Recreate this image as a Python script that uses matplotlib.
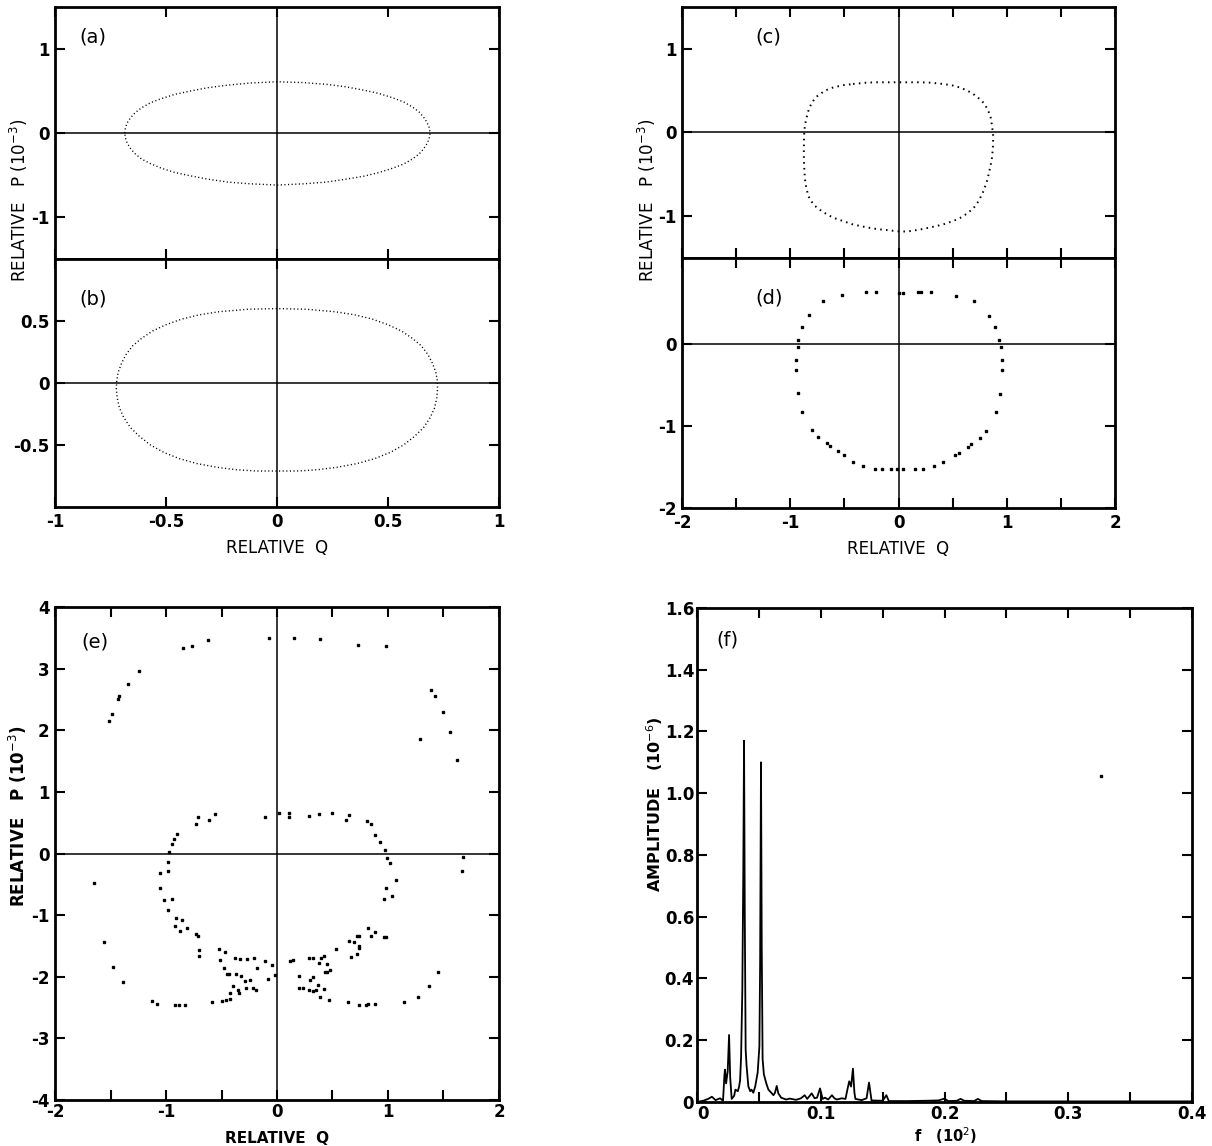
import matplotlib as mpl
mpl.use('Agg')
from matplotlib import pyplot as plt
from matplotlib.ticker import MultipleLocator, FixedLocator

plt.rcParams['font.family'] = ['DejaVu Sans']
plt.rcParams['axes.unicode_minus'] = False

# ---- data ----
# (a) phase-space curve, relative Q vs relative P (1e-3)
a_q = [-0.686, -0.683, -0.675, -0.66, -0.64, -0.61, -0.57, -0.52, -0.46, -0.39, -0.31, -0.22,
       -0.12, 0.0, 0.12, 0.22, 0.31, 0.39, 0.46, 0.52, 0.57, 0.61, 0.64, 0.66, 0.675, 0.685,
       0.69, 0.685, 0.675, 0.66, 0.64, 0.61, 0.57, 0.52, 0.46, 0.39, 0.31, 0.22, 0.12, 0.0,
       -0.12, -0.22, -0.31, -0.39, -0.46, -0.52, -0.57, -0.61, -0.64, -0.66, -0.675, -0.683,
       -0.686]
a_p = [0.0, 0.06, 0.12, 0.18, 0.24, 0.30, 0.36, 0.41, 0.46, 0.50, 0.54, 0.57,
       0.595, 0.61, 0.60, 0.58, 0.55, 0.51, 0.47, 0.42, 0.37, 0.31, 0.25, 0.19, 0.13, 0.07,
       0.0, -0.07, -0.13, -0.19, -0.25, -0.31, -0.37, -0.42, -0.47, -0.515, -0.55, -0.585,
       -0.605, -0.62, -0.605, -0.585, -0.55, -0.51, -0.47, -0.42, -0.365, -0.31, -0.245,
       -0.185, -0.12, -0.06, 0.0]

# (b)
b_q = [-0.724, -0.722, -0.715, -0.70, -0.68, -0.65, -0.61, -0.56, -0.50, -0.43, -0.35, -0.26,
       -0.13, 0.0, 0.13, 0.26, 0.35, 0.43, 0.50, 0.56, 0.61, 0.65, 0.68, 0.70, 0.715, 0.722,
       0.723, 0.72, 0.71, 0.69, 0.66, 0.62, 0.57, 0.51, 0.44, 0.36, 0.27, 0.18, 0.09, 0.0,
       -0.09, -0.18, -0.27, -0.36, -0.44, -0.51, -0.57, -0.62, -0.66, -0.69, -0.71, -0.72,
       -0.724]
b_p = [-0.05, 0.02, 0.09, 0.16, 0.23, 0.30, 0.36, 0.42, 0.47, 0.515, 0.55, 0.575,
       0.595, 0.60, 0.595, 0.575, 0.55, 0.515, 0.47, 0.42, 0.36, 0.30, 0.23, 0.16, 0.09, 0.02,
       -0.05, -0.12, -0.20, -0.28, -0.36, -0.43, -0.50, -0.56, -0.61, -0.65, -0.68, -0.70,
       -0.71, -0.71, -0.71, -0.70, -0.68, -0.65, -0.61, -0.56, -0.50, -0.43, -0.36, -0.28,
       -0.20, -0.12, -0.05]

# (c)
c_q = [-0.42, -0.30, -0.20, -0.10, 0.0, 0.10, 0.20, 0.30, 0.41, 0.49, 0.56, 0.62, 0.68, 0.74,
       0.79, 0.825, 0.85, 0.865, 0.875, 0.872, 0.865, 0.85, 0.82, 0.785, 0.74, 0.69, 0.62,
       0.56, 0.50, 0.41, 0.31, 0.20, 0.10, 0.03, -0.05, -0.12, -0.20, -0.31, -0.42, -0.51,
       -0.60, -0.66, -0.72, -0.77, -0.82, -0.85, -0.865, -0.872, -0.875, -0.873, -0.87,
       -0.855, -0.83, -0.80, -0.755, -0.68, -0.60, -0.51, -0.42]
c_p = [0.58, 0.595, 0.60, 0.60, 0.60, 0.60, 0.60, 0.595, 0.58, 0.565, 0.54, 0.51, 0.47, 0.41,
       0.35, 0.27, 0.19, 0.07, -0.05, -0.17, -0.29, -0.40, -0.57, -0.70, -0.82, -0.91, -0.98,
       -1.03, -1.06, -1.10, -1.13, -1.16, -1.18, -1.185, -1.175, -1.165, -1.155, -1.13, -1.10,
       -1.06, -1.02, -0.98, -0.93, -0.88, -0.80, -0.68, -0.55, -0.40, -0.25, -0.10, 0.03,
       0.15, 0.27, 0.36, 0.43, 0.50, 0.54, 0.565, 0.58]

# (d) individual iterates
d_q = [-0.52, -0.30, -0.21, 0.0, 0.04, 0.18, 0.21, 0.30, 0.53, 0.70, 0.84, 0.89, 0.93, 0.95,
       0.96, 0.96, 0.94, 0.90, 0.81, 0.75, 0.67, 0.64, 0.56, 0.52, 0.41, 0.33, 0.23, 0.15,
       0.04, -0.01, -0.07, -0.15, -0.22, -0.33, -0.42, -0.50, -0.56, -0.63, -0.66, -0.74,
       -0.80, -0.89, -0.93, -0.95, -0.95, -0.93, -0.93, -0.89, -0.83, -0.70]
d_p = [0.60, 0.63, 0.63, 0.62, 0.62, 0.63, 0.63, 0.63, 0.59, 0.52, 0.34, 0.21, 0.05, -0.03,
       -0.19, -0.32, -0.61, -0.83, -1.06, -1.15, -1.22, -1.26, -1.33, -1.35, -1.44, -1.49,
       -1.53, -1.53, -1.52, -1.52, -1.52, -1.53, -1.52, -1.49, -1.44, -1.35, -1.30, -1.24,
       -1.21, -1.13, -1.05, -0.83, -0.60, -0.32, -0.19, -0.03, 0.05, 0.21, 0.36, 0.52]

# (e) chaotic iterates
e_q = [-1.515, -1.485, -1.43, -1.42, -1.34, -1.24, -0.85, -0.77, -0.62, -0.07, 0.15, 0.39,
       0.73, 0.98, 1.39, 1.42, 1.50, 1.56, 1.29, 1.62,
       -0.97, -0.95, -0.93, -0.90, -0.73, -0.71, -0.61, -0.56, -0.11, 0.015, 0.11, 0.11,
       0.29, 0.38, 0.50, 0.62, 0.65, 0.81, 0.85, 0.88, 0.93, 0.97, 0.99, 1.02, 1.68, 1.67,
       -0.98, -1.05, -0.98,
       -1.65, -1.05, -1.02, -0.95, -0.98, -0.91, -0.86, -0.92, -0.87, -0.81, -0.73, -0.71,
       -0.70, -0.70, -1.56, -1.48, -1.39, -1.13, -1.08, -0.92, -0.88, -0.83, -0.59, -0.50,
       -0.46, -0.42, -0.52, -0.51, -0.47, -0.48, -0.45, -0.43, -0.38, -0.33, -0.27, -0.21,
       -0.37, -0.32, -0.40, -0.42, -0.35, -0.34, -0.29, -0.24, -0.28, -0.22, -0.19, -0.18,
       -0.11, -0.045, -0.085, -0.015,
       0.12, 0.145, 0.20, 0.20, 0.23, 0.29, 0.32, 0.30, 0.32, 0.29, 0.32, 0.35, 0.38, 0.40,
       0.42, 0.37, 0.42, 0.43, 0.45, 0.45, 0.39, 0.47, 0.48, 0.53, 0.64, 0.65, 0.69, 0.67,
       0.72, 0.74, 0.74, 0.72, 0.74, 0.74, 0.80, 0.82, 0.88, 0.82, 0.85, 0.88, 0.96, 0.98,
       0.96, 0.98, 1.04, 1.07, 1.14, 1.27, 1.37, 1.45]
e_p = [2.15, 2.27, 2.50, 2.55, 2.75, 2.97, 3.33, 3.37, 3.47, 3.50, 3.50, 3.48,
       3.39, 3.36, 2.65, 2.56, 2.29, 1.97, 1.86, 1.51,
       0.03, 0.16, 0.24, 0.32, 0.48, 0.60, 0.55, 0.64, 0.60, 0.66, 0.66, 0.60,
       0.61, 0.64, 0.66, 0.55, 0.63, 0.53, 0.48, 0.30, 0.19, 0.06, -0.08, -0.16, -0.05, -0.28,
       -0.13, -0.31, -0.29,
       -0.48, -0.56, -0.76, -0.73, -0.92, -1.04, -1.08, -1.17, -1.25, -1.21, -1.30, -1.34,
       -1.57, -1.66, -1.44, -1.84, -2.08, -2.40, -2.44, -2.46, -2.45, -2.45, -2.41, -2.39,
       -2.37, -2.36, -1.55, -1.73, -1.60, -1.86, -1.95, -1.96, -1.69, -1.71, -1.71, -1.70,
       -1.96, -1.99, -2.15, -2.26, -2.22, -2.27, -2.07, -2.06, -2.18, -2.18, -2.21, -1.86,
       -1.75, -1.81, -2.03, -1.97,
       -1.74, -1.73, -1.99, -2.18, -2.18, -1.70, -1.70, -2.05, -2.00, -2.22, -2.23, -2.22,
       -1.78, -1.69, -1.66, -2.14, -2.19, -1.92, -1.92, -1.79, -2.33, -2.38, -1.89, -1.55,
       -2.41, -1.42, -1.44, -1.68, -1.63, -1.54, -1.50, -1.34, -1.34, -2.46, -2.46, -2.44,
       -2.44, -1.21, -1.33, -1.28, -1.36, -1.36, -0.74, -0.56, -0.69, -0.43, -2.41, -2.32,
       -2.15, -1.93]

# (f) amplitude spectrum
f_freq = [0.0, 0.005, 0.009, 0.012, 0.015, 0.0186, 0.021, 0.0222, 0.0226, 0.0235, 0.0248,
          0.0259, 0.0268, 0.028, 0.030, 0.031, 0.033, 0.034, 0.0348, 0.0356, 0.0366, 0.0374,
          0.038, 0.0386, 0.0393, 0.040, 0.0415, 0.043, 0.044, 0.0455, 0.047, 0.049, 0.0504,
          0.051, 0.0517, 0.0523, 0.053, 0.054, 0.056, 0.0577, 0.060, 0.0617, 0.063, 0.0644,
          0.0657, 0.068, 0.072, 0.075, 0.080, 0.084, 0.087, 0.089, 0.0927, 0.095, 0.097, 0.0994,
          0.1015, 0.1034, 0.106, 0.109, 0.111, 0.113, 0.117, 0.120, 0.1215, 0.123, 0.1245,
          0.126, 0.1272, 0.128, 0.133, 0.137, 0.139, 0.1405, 0.141, 0.150, 0.153, 0.155, 0.170,
          0.185, 0.195, 0.200, 0.203, 0.210, 0.213, 0.216, 0.224, 0.227, 0.230, 0.250, 0.300,
          0.350, 0.400]
f_amp = [0.0, 0.004, 0.010, 0.017, 0.006, 0.012, 0.004, 0.09, 0.105, 0.06, 0.10,
         0.217, 0.08, 0.010, 0.02, 0.04, 0.035, 0.05, 0.07, 0.145, 0.36, 0.75,
         1.17, 0.60, 0.17, 0.12, 0.05, 0.035, 0.04, 0.03, 0.05, 0.095, 0.18,
         0.45, 1.10, 0.50, 0.14, 0.09, 0.06, 0.04, 0.03, 0.022, 0.03, 0.052,
         0.028, 0.014, 0.008, 0.011, 0.007, 0.012, 0.022, 0.010, 0.028, 0.012, 0.014, 0.044,
         0.010, 0.014, 0.008, 0.022, 0.012, 0.008, 0.012, 0.010, 0.04, 0.067, 0.05,
         0.108, 0.03, 0.010, 0.006, 0.012, 0.063, 0.02, 0.005, 0.004, 0.022, 0.003, 0.003,
         0.004, 0.005, 0.011, 0.003, 0.004, 0.010, 0.004, 0.003, 0.010, 0.003, 0.002, 0.002,
         0.002, 0.002]
f_stray_freq = [0.3265]
f_stray_amp = [1.055]

TICK_FS = 12
LAB_FS = 12
P_LABEL = 'RELATIVE   P (10$^{-3}$)'


def style(ax):
    for s in ax.spines.values():
        s.set_linewidth(2.0)
    ax.tick_params(direction='in', length=7, width=1.5, top=True, right=True,
                   labelsize=TICK_FS, pad=4)
    for lab in ax.get_xticklabels() + ax.get_yticklabels():
        lab.set_fontweight('bold')


def axes_cross(ax):
    ax.axhline(0, color='black', lw=1.1, zorder=1)
    ax.axvline(0, color='black', lw=1.1, zorder=1)


def panel_label(ax, txt, x, y):
    ax.text(x, y, txt, transform=ax.transAxes, fontsize=14, va='center', ha='left')


fig = plt.figure(figsize=(12.12, 11.46), dpi=100)

# ---- top left: (a) and (b) ----
ax_a = fig.add_axes([0.0454, 0.774, 0.3663, 0.2199])
ax_b = fig.add_axes([0.0454, 0.5576, 0.3663, 0.2164])
ax_a.plot(a_q, a_p, color='black', lw=1.0, ls=(0, (0.8, 1.8)))
ax_b.plot(b_q, b_p, color='black', lw=1.0, ls=(0, (0.8, 1.8)))
for ax in (ax_a, ax_b):
    axes_cross(ax)
    ax.set_xlim(-1, 1)
    ax.set_xticks([-1, -0.5, 0, 0.5, 1])
ax_a.set_ylim(-1.5, 1.5)
ax_a.set_yticks([-1, 0, 1])
ax_a.set_yticklabels(['-1', '0', '1'])
ax_a.set_xticklabels([])
ax_b.set_ylim(-1, 1)
ax_b.set_yticks([-0.5, 0, 0.5])
ax_b.set_yticklabels(['-0.5', '0', '0.5'])
ax_b.set_xticklabels(['-1', '-0.5', '0', '0.5', '1'])
ax_b.set_xlabel('RELATIVE  Q', fontsize=LAB_FS, labelpad=6)
style(ax_a)
style(ax_b)
panel_label(ax_a, '(a)', 0.055, 0.88)
panel_label(ax_b, '(b)', 0.055, 0.84)
fig.text(0.016, 0.825, P_LABEL, rotation=90, ha='center', va='center', fontsize=LAB_FS)

# ---- top right: (c) and (d) ----
ax_c = fig.add_axes([0.5627, 0.7749, 0.3573, 0.2190])
ax_d = fig.add_axes([0.5627, 0.5567, 0.3573, 0.2182])
ax_c.plot(c_q, c_p, color='black', lw=1.4, ls=(0, (0.8, 2.2)))
ax_d.plot(d_q, d_p, ls='none', marker='s', ms=1.8, color='black')
for ax in (ax_c, ax_d):
    axes_cross(ax)
    ax.set_xlim(-2, 2)
    ax.set_xticks([-2, -1, 0, 1, 2])
    ax.xaxis.set_minor_locator(FixedLocator([-1.5, -0.5, 0.5, 1.5]))
    ax.tick_params(which='minor', direction='in', length=7, width=1.5, top=True)
ax_c.set_ylim(-1.5, 1.5)
ax_c.set_yticks([-1, 0, 1])
ax_c.set_yticklabels(['-1', '0', '1'])
ax_c.set_xticklabels([])
ax_d.set_ylim(-2, 1.05)
ax_d.set_yticks([-2, -1, 0])
ax_d.set_yticklabels(['-2', '-1', '0'])
ax_d.set_xticklabels(['-2', '-1', '0', '1', '2'])
ax_d.set_xlabel('RELATIVE  Q', fontsize=LAB_FS, labelpad=6)
style(ax_c)
style(ax_d)
panel_label(ax_c, '(c)', 0.17, 0.88)
panel_label(ax_d, '(d)', 0.17, 0.84)
fig.text(0.534, 0.825, P_LABEL, rotation=90, ha='center', va='center', fontsize=LAB_FS)

# ---- bottom left: (e) ----
ax_e = fig.add_axes([0.0454, 0.0401, 0.3663, 0.4302])
axes_cross(ax_e)
ax_e.plot(e_q, e_p, ls='none', marker='s', ms=1.6, color='black')
ax_e.set_xlim(-2, 2)
ax_e.set_ylim(-4, 4)
ax_e.set_xticks([-2, -1, 0, 1, 2])
ax_e.set_xticklabels(['-2', '-1', '0', '1', '2'])
ax_e.xaxis.set_minor_locator(FixedLocator([-1.5, -0.5, 0.5, 1.5]))
ax_e.tick_params(which='minor', direction='in', length=7, width=1.5, top=True)
ax_e.set_yticks([-4, -3, -2, -1, 0, 1, 2, 3, 4])
ax_e.set_yticklabels(['-4', '-3', '-2', '-1', '0', '1', '2', '3', '4'])
style(ax_e)
ax_e.tick_params(axis='x', pad=2)
panel_label(ax_e, '(e)', 0.06, 0.93)
fig.text(0.2286, 0.0, 'RELATIVE  Q', ha='center', va='bottom', fontsize=11,
         fontweight='bold')
fig.text(0.015, 0.288, P_LABEL, rotation=90, ha='center', va='center', fontsize=LAB_FS,
         fontweight='bold')

# ---- bottom right: (f) ----
ax_f = fig.add_axes([0.5751, 0.0384, 0.4084, 0.4311])
ax_f.plot(f_freq, f_amp, color='black', lw=1.3)
ax_f.plot(f_stray_freq, f_stray_amp, ls='none', marker='s', ms=2, color='black')
ax_f.set_xlim(0, 0.4)
ax_f.set_ylim(0, 1.6)
ax_f.set_xticks([0, 0.1, 0.2, 0.3, 0.4])
ax_f.set_xticklabels(['0', '0.1', '0.2', '0.3', '0.4'])
ax_f.xaxis.set_minor_locator(MultipleLocator(0.05))
ax_f.tick_params(which='minor', direction='in', length=7, width=1.5, top=True)
ax_f.set_yticks([0, 0.2, 0.4, 0.6, 0.8, 1.0, 1.2, 1.4, 1.6])
ax_f.set_yticklabels(['0', '0.2', '0.4', '0.6', '0.8', '1.0', '1.2', '1.4', '1.6'])
style(ax_f)
ax_f.tick_params(axis='y', pad=2)
ax_f.tick_params(axis='x', pad=2)
# origin "0" sits just right of the corner, as in the original
ax_f.get_xticklabels()[0].set_horizontalalignment('left')
panel_label(ax_f, '(f)', 0.04, 0.935)
fig.text(0.78, 0.0, 'f   (10$^{2}$)', ha='center', va='bottom', fontsize=10.5,
         fontweight='bold')
fig.text(0.540, 0.298, 'AMPLITUDE   (10$^{-6}$)', rotation=90, ha='center', va='center',
         fontsize=11.5, fontweight='bold')

fig.savefig('out.png', dpi=100)
